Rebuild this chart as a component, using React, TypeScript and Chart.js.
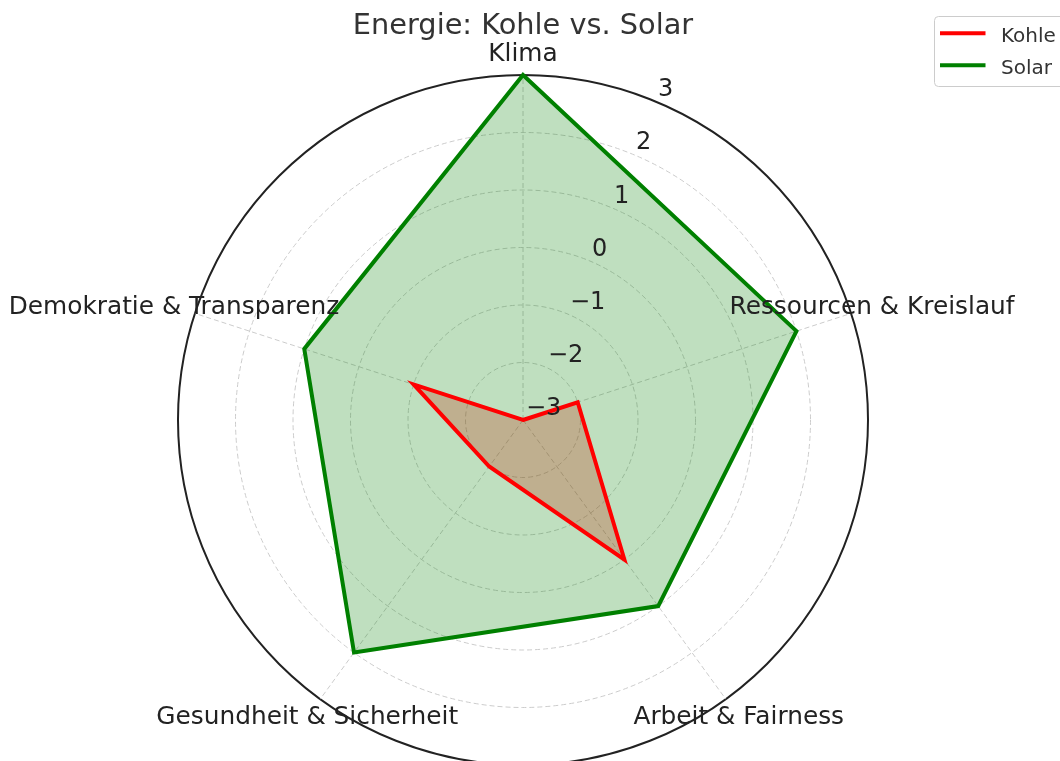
import React, { useEffect, useRef } from 'react';
import { Chart, registerables } from 'chart.js';

Chart.register(...registerables);

const titleText = 'Energie: Kohle vs. Solar';
const categories = [
  'Klima',
  'Ressourcen & Kreislauf',
  'Arbeit & Fairness',
  'Gesundheit & Sicherheit',
  'Demokratie & Transparenz',
];
const seriesNames = ['Kohle', 'Solar'];
const kohleValues = [-3, -2, 0, -2, -1];
const solarValues = [3, 2, 1, 2, 1];
const tickValues = [-3, -2, -1, 0, 1, 2, 3];
const seriesColors = ['#ff0000', '#008000'];
const seriesFills = ['rgba(255,0,0,0.25)', 'rgba(0,128,0,0.25)'];

const FONT = '"DejaVu Sans", Verdana, sans-serif';
const CX = 523;
const CY = 420;
const R = 345;

function fmtTick(v: number): string {
  return v < 0 ? '\u2212' + Math.abs(v) : String(v);
}

export default function App() {
  const ref = useRef<HTMLCanvasElement>(null);

  useEffect(() => {
    const canvas = ref.current;
    if (!canvas) return;

    const overlay = {
      id: 'overlay',
      afterDraw(chart: any) {
        const ctx = chart.ctx as CanvasRenderingContext2D;
        const scale = chart.scales.r;
        ctx.save();

        // radial tick labels at 22.5 degrees
        ctx.font = `24px ${FONT}`;
        ctx.fillStyle = '#222222';
        ctx.textAlign = 'left';
        ctx.textBaseline = 'alphabetic';
        const ang = Math.PI / 8;
        scale.ticks.forEach((t: any) => {
          if (!tickValues.includes(t.value)) return;
          const d = scale.getDistanceFromCenterForValue(t.value);
          const x = scale.xCenter + d * Math.sin(ang) + 3;
          const y = scale.yCenter - d * Math.cos(ang) - 5;
          ctx.fillText(fmtTick(t.value), x, y);
        });

        // category labels
        ctx.font = `24.8px ${FONT}`;
        ctx.textAlign = 'center';
        categories.forEach((c, i) => {
          const p = scale.getPointPosition(i, scale.drawingArea + 22);
          ctx.fillText(c, p.x, p.y + 7.5);
        });

        // title
        ctx.font = `28.8px ${FONT}`;
        ctx.fillStyle = '#333333';
        ctx.fillText(titleText, scale.xCenter, 34.3);

        // legend
        const bx = 934.5, by = 16.5, bw = 150, bh = 70, rr = 4;
        ctx.beginPath();
        ctx.moveTo(bx + rr, by);
        ctx.lineTo(bx + bw - rr, by);
        ctx.arcTo(bx + bw, by, bx + bw, by + rr, rr);
        ctx.lineTo(bx + bw, by + bh - rr);
        ctx.arcTo(bx + bw, by + bh, bx + bw - rr, by + bh, rr);
        ctx.lineTo(bx + rr, by + bh);
        ctx.arcTo(bx, by + bh, bx, by + bh - rr, rr);
        ctx.lineTo(bx, by + rr);
        ctx.arcTo(bx, by, bx + rr, by, rr);
        ctx.closePath();
        ctx.fillStyle = 'rgba(255,255,255,0.8)';
        ctx.fill();
        ctx.strokeStyle = '#cccccc';
        ctx.lineWidth = 1;
        ctx.stroke();

        ctx.font = `20px ${FONT}`;
        ctx.textAlign = 'left';
        seriesNames.forEach((name, i) => {
          const y = 33.3 + i * 32;
          ctx.beginPath();
          ctx.moveTo(940, y);
          ctx.lineTo(985.5, y);
          ctx.strokeStyle = seriesColors[i];
          ctx.lineWidth = 4;
          ctx.stroke();
          ctx.fillStyle = '#333333';
          ctx.fillText(name, 1001, y + 8.2);
        });

        ctx.restore();
      },
    };

    const chart = new Chart(canvas, {
      type: 'radar',
      data: {
        labels: categories,
        datasets: [
          {
            label: seriesNames[0],
            data: kohleValues,
            borderColor: seriesColors[0],
            backgroundColor: seriesFills[0],
            borderWidth: 4,
            fill: 'start',
            pointRadius: 0,
            pointHoverRadius: 0,
            tension: 0,
            order: 1,
          },
          {
            label: seriesNames[1],
            data: solarValues,
            borderColor: seriesColors[1],
            backgroundColor: seriesFills[1],
            borderWidth: 4,
            fill: 'start',
            pointRadius: 0,
            pointHoverRadius: 0,
            tension: 0,
            order: 0,
          },
        ],
      },
      options: {
        responsive: false,
        animation: false,
        events: [],
        layout: { padding: 0 },
        plugins: {
          legend: { display: false },
          title: { display: false },
          tooltip: { enabled: false },
          filler: { drawTime: 'beforeDatasetsDraw' },
        },
        scales: {
          r: {
            min: tickValues[0],
            max: tickValues[tickValues.length - 1],
            ticks: { stepSize: 1, display: false },
            pointLabels: { display: false },
            grid: {
              circular: true,
              color: (ctx: any) => (ctx.tick && ctx.tick.value === 3 ? '#222222' : '#cccccc'),
              lineWidth: (ctx: any) => (ctx.tick && ctx.tick.value === 3 ? 2 : 1),
            },
            border: {
              dash: (ctx: any) => (ctx.tick && ctx.tick.value === 3 ? [] : [5, 3]),
            },
            angleLines: {
              display: true,
              color: '#cccccc',
              lineWidth: 1,
              borderDash: [5, 3],
            },
            afterFit: (scale: any) => {
              scale.xCenter = CX;
              scale.yCenter = CY;
              scale.drawingArea = R;
            },
          },
        },
      } as any,
      plugins: [overlay],
    });

    return () => chart.destroy();
  }, []);

  return (
    <div style={{ position: 'fixed', left: 0, top: 0, width: 1060, height: 761, background: '#ffffff' }}>
      <canvas ref={ref} width={1060} height={761} style={{ display: 'block' }} />
    </div>
  );
}
